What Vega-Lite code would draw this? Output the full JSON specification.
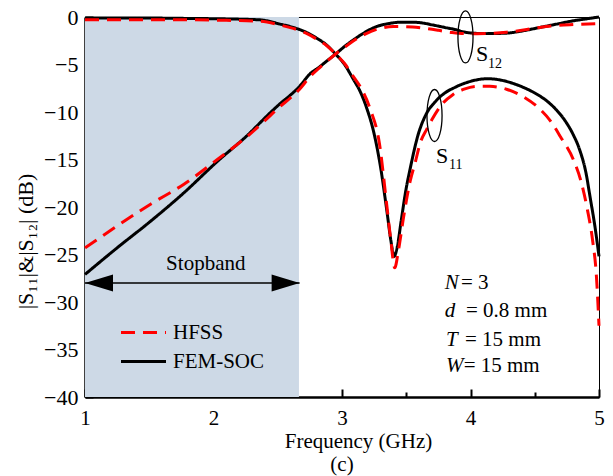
{
  "$schema": "https://vega.github.io/schema/vega-lite/v6.json",
  "width": 514,
  "height": 380,
  "autosize": "none",
  "padding": {"left": 85, "top": 17, "right": 14, "bottom": 79},
  "config": {
    "font": "Liberation Serif",
    "view": {"stroke": "#000", "strokeWidth": 1},
    "axis": {
      "domainColor": "#000", "domainWidth": 2.5, "tickColor": "#000", "tickWidth": 2,
      "labelFont": "Liberation Serif", "labelFontSize": 21, "labelColor": "#000",
      "titleFont": "Liberation Serif", "titleFontWeight": "normal", "titleColor": "#000",
      "grid": false, "labelFlush": false, "labelOverlap": false
    }
  },
  "title": {"text": "(c)", "orient": "bottom", "anchor": "middle", "frame": "group", "offset": 3, "fontSize": 21, "font": "Liberation Serif", "fontWeight": "normal", "color": "#000", "baseline": "top"},
  "datasets": {
    "band": [{"f": 1, "f2": 2.665, "db": -40, "db2": 0}],
    "arrow": [{"f": 1, "f2": 2.67, "db": -28}],
    "heads": [{"f": 1, "db": -28, "dir": "left"}, {"f": 2.67, "db": -28, "dir": "right"}],
    "stop": [{"f": 1.94, "db": -26.58, "t": "Stopband"}],
    "curves": [
      {"series": "FEM-SOC", "param": "S11", "f": 1.0, "db": -0.1},
      {"series": "FEM-SOC", "param": "S11", "f": 1.4, "db": -0.1},
      {"series": "FEM-SOC", "param": "S11", "f": 1.8, "db": -0.15},
      {"series": "FEM-SOC", "param": "S11", "f": 2.1, "db": -0.2},
      {"series": "FEM-SOC", "param": "S11", "f": 2.36, "db": -0.3},
      {"series": "FEM-SOC", "param": "S11", "f": 2.52, "db": -0.75},
      {"series": "FEM-SOC", "param": "S11", "f": 2.62, "db": -1.1},
      {"series": "FEM-SOC", "param": "S11", "f": 2.72, "db": -1.6},
      {"series": "FEM-SOC", "param": "S11", "f": 2.8, "db": -2.2},
      {"series": "FEM-SOC", "param": "S11", "f": 2.88, "db": -2.95},
      {"series": "FEM-SOC", "param": "S11", "f": 2.95, "db": -3.9},
      {"series": "FEM-SOC", "param": "S11", "f": 3.02, "db": -5.0},
      {"series": "FEM-SOC", "param": "S11", "f": 3.09, "db": -6.6},
      {"series": "FEM-SOC", "param": "S11", "f": 3.14, "db": -7.8},
      {"series": "FEM-SOC", "param": "S11", "f": 3.19, "db": -9.5},
      {"series": "FEM-SOC", "param": "S11", "f": 3.25, "db": -12.3},
      {"series": "FEM-SOC", "param": "S11", "f": 3.3, "db": -15.8},
      {"series": "FEM-SOC", "param": "S11", "f": 3.35, "db": -20.5},
      {"series": "FEM-SOC", "param": "S11", "f": 3.38, "db": -23.5},
      {"series": "FEM-SOC", "param": "S11", "f": 3.405, "db": -25.2},
      {"series": "FEM-SOC", "param": "S11", "f": 3.43, "db": -24.2},
      {"series": "FEM-SOC", "param": "S11", "f": 3.46, "db": -21.5},
      {"series": "FEM-SOC", "param": "S11", "f": 3.5, "db": -18.0},
      {"series": "FEM-SOC", "param": "S11", "f": 3.53, "db": -16.0},
      {"series": "FEM-SOC", "param": "S11", "f": 3.59, "db": -12.5},
      {"series": "FEM-SOC", "param": "S11", "f": 3.66, "db": -10.1},
      {"series": "FEM-SOC", "param": "S11", "f": 3.72, "db": -9.0},
      {"series": "FEM-SOC", "param": "S11", "f": 3.79, "db": -8.1},
      {"series": "FEM-SOC", "param": "S11", "f": 3.88, "db": -7.4},
      {"series": "FEM-SOC", "param": "S11", "f": 3.97, "db": -6.9},
      {"series": "FEM-SOC", "param": "S11", "f": 4.13, "db": -6.5},
      {"series": "FEM-SOC", "param": "S11", "f": 4.22, "db": -6.6},
      {"series": "FEM-SOC", "param": "S11", "f": 4.31, "db": -6.9},
      {"series": "FEM-SOC", "param": "S11", "f": 4.41, "db": -7.4},
      {"series": "FEM-SOC", "param": "S11", "f": 4.5, "db": -8.0},
      {"series": "FEM-SOC", "param": "S11", "f": 4.6, "db": -8.9},
      {"series": "FEM-SOC", "param": "S11", "f": 4.67, "db": -9.8},
      {"series": "FEM-SOC", "param": "S11", "f": 4.74, "db": -11.0},
      {"series": "FEM-SOC", "param": "S11", "f": 4.8, "db": -12.4},
      {"series": "FEM-SOC", "param": "S11", "f": 4.85, "db": -14.0},
      {"series": "FEM-SOC", "param": "S11", "f": 4.9, "db": -16.5},
      {"series": "FEM-SOC", "param": "S11", "f": 4.93, "db": -18.9},
      {"series": "FEM-SOC", "param": "S11", "f": 4.97, "db": -22.2},
      {"series": "FEM-SOC", "param": "S11", "f": 5.0, "db": -25.2},
      {"series": "FEM-SOC", "param": "S12", "f": 1.0, "db": -27.1},
      {"series": "FEM-SOC", "param": "S12", "f": 1.25, "db": -24.3},
      {"series": "FEM-SOC", "param": "S12", "f": 1.51, "db": -21.5},
      {"series": "FEM-SOC", "param": "S12", "f": 1.77, "db": -18.5},
      {"series": "FEM-SOC", "param": "S12", "f": 2.03, "db": -15.2},
      {"series": "FEM-SOC", "param": "S12", "f": 2.26, "db": -12.5},
      {"series": "FEM-SOC", "param": "S12", "f": 2.44, "db": -10.1},
      {"series": "FEM-SOC", "param": "S12", "f": 2.52, "db": -9.1},
      {"series": "FEM-SOC", "param": "S12", "f": 2.6, "db": -8.2},
      {"series": "FEM-SOC", "param": "S12", "f": 2.67, "db": -7.3},
      {"series": "FEM-SOC", "param": "S12", "f": 2.75, "db": -6.0},
      {"series": "FEM-SOC", "param": "S12", "f": 2.82, "db": -5.3},
      {"series": "FEM-SOC", "param": "S12", "f": 2.88, "db": -4.65},
      {"series": "FEM-SOC", "param": "S12", "f": 2.95, "db": -3.9},
      {"series": "FEM-SOC", "param": "S12", "f": 3.02, "db": -3.1},
      {"series": "FEM-SOC", "param": "S12", "f": 3.09, "db": -2.4},
      {"series": "FEM-SOC", "param": "S12", "f": 3.18, "db": -1.6},
      {"series": "FEM-SOC", "param": "S12", "f": 3.27, "db": -1.0},
      {"series": "FEM-SOC", "param": "S12", "f": 3.36, "db": -0.7},
      {"series": "FEM-SOC", "param": "S12", "f": 3.45, "db": -0.55},
      {"series": "FEM-SOC", "param": "S12", "f": 3.55, "db": -0.55},
      {"series": "FEM-SOC", "param": "S12", "f": 3.61, "db": -0.6},
      {"series": "FEM-SOC", "param": "S12", "f": 3.71, "db": -0.85},
      {"series": "FEM-SOC", "param": "S12", "f": 3.8, "db": -1.1},
      {"series": "FEM-SOC", "param": "S12", "f": 3.89, "db": -1.35},
      {"series": "FEM-SOC", "param": "S12", "f": 3.94, "db": -1.55},
      {"series": "FEM-SOC", "param": "S12", "f": 4.02, "db": -1.7},
      {"series": "FEM-SOC", "param": "S12", "f": 4.13, "db": -1.75},
      {"series": "FEM-SOC", "param": "S12", "f": 4.28, "db": -1.7},
      {"series": "FEM-SOC", "param": "S12", "f": 4.39, "db": -1.5},
      {"series": "FEM-SOC", "param": "S12", "f": 4.54, "db": -1.1},
      {"series": "FEM-SOC", "param": "S12", "f": 4.67, "db": -0.75},
      {"series": "FEM-SOC", "param": "S12", "f": 4.8, "db": -0.4},
      {"series": "FEM-SOC", "param": "S12", "f": 4.9, "db": -0.2},
      {"series": "FEM-SOC", "param": "S12", "f": 5.0, "db": 0.0},
      {"series": "HFSS", "param": "S11", "f": 1.0, "db": -0.3},
      {"series": "HFSS", "param": "S11", "f": 1.4, "db": -0.3},
      {"series": "HFSS", "param": "S11", "f": 1.8, "db": -0.3},
      {"series": "HFSS", "param": "S11", "f": 2.1, "db": -0.35},
      {"series": "HFSS", "param": "S11", "f": 2.36, "db": -0.45},
      {"series": "HFSS", "param": "S11", "f": 2.52, "db": -0.85},
      {"series": "HFSS", "param": "S11", "f": 2.62, "db": -1.2},
      {"series": "HFSS", "param": "S11", "f": 2.72, "db": -1.7},
      {"series": "HFSS", "param": "S11", "f": 2.8, "db": -2.3},
      {"series": "HFSS", "param": "S11", "f": 2.88, "db": -3.0},
      {"series": "HFSS", "param": "S11", "f": 2.95, "db": -3.9},
      {"series": "HFSS", "param": "S11", "f": 3.02, "db": -4.9},
      {"series": "HFSS", "param": "S11", "f": 3.09, "db": -6.3},
      {"series": "HFSS", "param": "S11", "f": 3.14, "db": -7.3},
      {"series": "HFSS", "param": "S11", "f": 3.22, "db": -9.7},
      {"series": "HFSS", "param": "S11", "f": 3.29, "db": -13.2},
      {"series": "HFSS", "param": "S11", "f": 3.35, "db": -20.0},
      {"series": "HFSS", "param": "S11", "f": 3.38, "db": -23.5},
      {"series": "HFSS", "param": "S11", "f": 3.41, "db": -26.4},
      {"series": "HFSS", "param": "S11", "f": 3.44, "db": -24.5},
      {"series": "HFSS", "param": "S11", "f": 3.48, "db": -21.0},
      {"series": "HFSS", "param": "S11", "f": 3.53, "db": -17.3},
      {"series": "HFSS", "param": "S11", "f": 3.57, "db": -15.3},
      {"series": "HFSS", "param": "S11", "f": 3.61, "db": -13.2},
      {"series": "HFSS", "param": "S11", "f": 3.66, "db": -11.8},
      {"series": "HFSS", "param": "S11", "f": 3.7, "db": -10.8},
      {"series": "HFSS", "param": "S11", "f": 3.79, "db": -9.0},
      {"series": "HFSS", "param": "S11", "f": 3.86, "db": -8.2},
      {"series": "HFSS", "param": "S11", "f": 3.95, "db": -7.6},
      {"series": "HFSS", "param": "S11", "f": 4.05, "db": -7.3},
      {"series": "HFSS", "param": "S11", "f": 4.15, "db": -7.3},
      {"series": "HFSS", "param": "S11", "f": 4.28, "db": -7.6},
      {"series": "HFSS", "param": "S11", "f": 4.4, "db": -8.3},
      {"series": "HFSS", "param": "S11", "f": 4.54, "db": -9.7},
      {"series": "HFSS", "param": "S11", "f": 4.62, "db": -10.9},
      {"series": "HFSS", "param": "S11", "f": 4.7, "db": -12.6},
      {"series": "HFSS", "param": "S11", "f": 4.8, "db": -15.0},
      {"series": "HFSS", "param": "S11", "f": 4.86, "db": -17.3},
      {"series": "HFSS", "param": "S11", "f": 4.91, "db": -20.3},
      {"series": "HFSS", "param": "S11", "f": 4.95, "db": -23.5},
      {"series": "HFSS", "param": "S11", "f": 4.98, "db": -27.3},
      {"series": "HFSS", "param": "S11", "f": 5.0, "db": -32.5},
      {"series": "HFSS", "param": "S12", "f": 1.0, "db": -24.3},
      {"series": "HFSS", "param": "S12", "f": 1.25, "db": -22.0},
      {"series": "HFSS", "param": "S12", "f": 1.51, "db": -19.7},
      {"series": "HFSS", "param": "S12", "f": 1.77, "db": -17.6},
      {"series": "HFSS", "param": "S12", "f": 2.03, "db": -15.0},
      {"series": "HFSS", "param": "S12", "f": 2.26, "db": -12.6},
      {"series": "HFSS", "param": "S12", "f": 2.44, "db": -10.4},
      {"series": "HFSS", "param": "S12", "f": 2.52, "db": -9.4},
      {"series": "HFSS", "param": "S12", "f": 2.6, "db": -8.5},
      {"series": "HFSS", "param": "S12", "f": 2.67, "db": -7.6},
      {"series": "HFSS", "param": "S12", "f": 2.75, "db": -6.3},
      {"series": "HFSS", "param": "S12", "f": 2.82, "db": -5.4},
      {"series": "HFSS", "param": "S12", "f": 2.88, "db": -4.7},
      {"series": "HFSS", "param": "S12", "f": 2.95, "db": -3.9},
      {"series": "HFSS", "param": "S12", "f": 3.02, "db": -3.2},
      {"series": "HFSS", "param": "S12", "f": 3.09, "db": -2.5},
      {"series": "HFSS", "param": "S12", "f": 3.18, "db": -1.8},
      {"series": "HFSS", "param": "S12", "f": 3.27, "db": -1.3},
      {"series": "HFSS", "param": "S12", "f": 3.4, "db": -1.0},
      {"series": "HFSS", "param": "S12", "f": 3.55, "db": -1.05},
      {"series": "HFSS", "param": "S12", "f": 3.65, "db": -1.2},
      {"series": "HFSS", "param": "S12", "f": 3.75, "db": -1.4},
      {"series": "HFSS", "param": "S12", "f": 3.84, "db": -1.6},
      {"series": "HFSS", "param": "S12", "f": 3.95, "db": -1.75},
      {"series": "HFSS", "param": "S12", "f": 4.05, "db": -1.75},
      {"series": "HFSS", "param": "S12", "f": 4.28, "db": -1.6},
      {"series": "HFSS", "param": "S12", "f": 4.4, "db": -1.4},
      {"series": "HFSS", "param": "S12", "f": 4.54, "db": -1.1},
      {"series": "HFSS", "param": "S12", "f": 4.67, "db": -0.9},
      {"series": "HFSS", "param": "S12", "f": 4.8, "db": -0.8},
      {"series": "HFSS", "param": "S12", "f": 5.0, "db": -0.7}
    ],
    "ellipses": [{"f": 3.961, "db": -2.1}, {"f": 3.72, "db": -10.37}],
    "slabels": [{"f": 4.043, "db": -4.68, "t": "S"}, {"f": 3.732, "db": -15.32, "t": "S"}],
    "subs": [{"f": 4.136, "db": -5.42, "t": "12"}, {"f": 3.833, "db": -16.05, "t": "11"}],
    "pvars": [
      {"f": 3.8, "db": -28.68, "t": "N"},
      {"f": 3.8, "db": -31.63, "t": "d"},
      {"f": 3.81, "db": -34.58, "t": "T"},
      {"f": 3.81, "db": -37.42, "t": "W"}
    ],
    "pvals": [
      {"f": 3.926, "db": -28.68, "t": "= 3"},
      {"f": 3.965, "db": -31.63, "t": "= 0.8 mm"},
      {"f": 3.957, "db": -34.58, "t": "= 15 mm"},
      {"f": 3.947, "db": -37.42, "t": "= 15 mm"}
    ]
  },
  "layer": [
    {
      "data": {"name": "band"},
      "mark": {"type": "rect", "color": "#cdd9e6"},
      "encoding": {
        "x": {
          "field": "f", "type": "quantitative",
          "scale": {"domain": [1, 5], "nice": false, "zero": false},
          "axis": {
            "title": "Frequency (GHz)",
            "values": [1, 1.5, 2, 2.5, 3, 3.5, 4, 4.5, 5],
            "labelExpr": "datum.value % 1 === 0 ? format(datum.value, 'd') : ''",
            "tickSize": {"condition": {"test": "datum.value % 1 !== 0", "value": -5}, "value": -8},
            "labelPadding": 18,
            "labelFont": "Liberation Serif", "labelFontSize": 21,
            "titleFont": "Liberation Serif", "titleFontSize": 21,
            "titleX": 273, "titleY": 50, "titleBaseline": "alphabetic", "titleAlign": "center"
          }
        },
        "x2": {"field": "f2"},
        "y": {
          "field": "db", "type": "quantitative",
          "scale": {"domain": [-40, 0], "nice": false, "zero": false},
          "axis": {
            "title": "|S₁₁|&|S₁₂| (dB)",
            "values": [-40, -37.5, -35, -32.5, -30, -27.5, -25, -22.5, -20, -17.5, -15, -12.5, -10, -7.5, -5, -2.5, 0],
            "labelExpr": "datum.value % 5 === 0 ? replace(format(datum.value, 'd'), '-', '\u2212') : ''",
            "tickSize": {"condition": {"test": "datum.value % 5 !== 0", "value": -5}, "value": -8},
            "labelPadding": 15,
            "labelFont": "Liberation Serif", "labelFontSize": 22,
            "titleFont": "Liberation Serif", "titleFontSize": 22,
            "titleX": -53, "titleY": 224, "titleAngle": 270, "titleBaseline": "alphabetic", "titleAlign": "center"
          }
        },
        "y2": {"field": "db2"}
      }
    },
    {
      "data": {"name": "arrow"},
      "mark": {"type": "rule", "color": "#000", "strokeWidth": 1.5},
      "encoding": {
        "x": {"field": "f", "type": "quantitative"},
        "x2": {"field": "f2"},
        "y": {"field": "db", "type": "quantitative"}
      }
    },
    {
      "data": {"name": "heads"},
      "mark": {"type": "point", "filled": true, "color": "#000", "opacity": 1, "size": 784},
      "encoding": {
        "x": {"field": "f", "type": "quantitative"},
        "y": {"field": "db", "type": "quantitative"},
        "shape": {"field": "dir", "type": "nominal", "legend": null,
          "scale": {"domain": ["left", "right"], "range": ["M0,0L2,-0.6L2,0.6Z", "M0,0L-2,-0.6L-2,0.6Z"]}}
      }
    },
    {
      "data": {"name": "stop"},
      "mark": {"type": "text", "font": "Liberation Serif", "fontSize": 21, "align": "center", "baseline": "alphabetic", "color": "#000"},
      "encoding": {
        "x": {"field": "f", "type": "quantitative"},
        "y": {"field": "db", "type": "quantitative"},
        "text": {"field": "t"}
      }
    },
    {
      "data": {"name": "curves"},
      "mark": {"type": "line", "strokeWidth": 3, "interpolate": "monotone"},
      "encoding": {
        "x": {"field": "f", "type": "quantitative"},
        "y": {"field": "db", "type": "quantitative"},
        "detail": {"field": "param"},
        "color": {"field": "series", "type": "nominal",
          "scale": {"domain": ["HFSS", "FEM-SOC"], "range": ["#ff0000", "#000000"]},
          "legend": {"orient": "none", "legendX": 48, "legendY": 305, "title": null, "symbolType": "M-3,0L3,0", "symbolSize": 225, "symbolStrokeWidth": 3, "labelFontSize": 21, "labelFont": "Liberation Serif", "labelColor": "#000", "labelOffset": 19, "rowPadding": 7, "padding": 0}},
        "strokeDash": {"field": "series", "type": "nominal",
          "scale": {"domain": ["HFSS", "FEM-SOC"], "range": [[14, 8], [1, 0]]},
          "legend": {"orient": "none", "legendX": 48, "legendY": 305, "title": null, "symbolType": "M-3,0L3,0", "symbolSize": 225, "symbolStrokeWidth": 3, "labelFontSize": 21, "labelFont": "Liberation Serif", "labelColor": "#000", "labelOffset": 19, "rowPadding": 7, "padding": 0}}
      }
    },
    {
      "data": {"name": "ellipses"},
      "mark": {"type": "point", "filled": false, "color": "#000", "strokeWidth": 1.3, "opacity": 1, "size": 2704, "shape": "M0,-1A0.29,1,0,1,1,0,1A0.29,1,0,1,1,0,-1Z"},
      "encoding": {
        "x": {"field": "f", "type": "quantitative"},
        "y": {"field": "db", "type": "quantitative"}
      }
    },
    {
      "data": {"name": "slabels"},
      "mark": {"type": "text", "font": "Liberation Serif", "fontSize": 22, "align": "left", "baseline": "alphabetic", "color": "#000"},
      "encoding": {
        "x": {"field": "f", "type": "quantitative"},
        "y": {"field": "db", "type": "quantitative"},
        "text": {"field": "t"}
      }
    },
    {
      "data": {"name": "subs"},
      "mark": {"type": "text", "font": "Liberation Serif", "fontSize": 14, "align": "left", "baseline": "alphabetic", "color": "#000"},
      "encoding": {
        "x": {"field": "f", "type": "quantitative"},
        "y": {"field": "db", "type": "quantitative"},
        "text": {"field": "t"}
      }
    },
    {
      "data": {"name": "pvars"},
      "mark": {"type": "text", "font": "Liberation Serif", "fontSize": 21, "fontStyle": "italic", "align": "left", "baseline": "alphabetic", "color": "#000"},
      "encoding": {
        "x": {"field": "f", "type": "quantitative"},
        "y": {"field": "db", "type": "quantitative"},
        "text": {"field": "t"}
      }
    },
    {
      "data": {"name": "pvals"},
      "mark": {"type": "text", "font": "Liberation Serif", "fontSize": 21, "align": "left", "baseline": "alphabetic", "color": "#000"},
      "encoding": {
        "x": {"field": "f", "type": "quantitative"},
        "y": {"field": "db", "type": "quantitative"},
        "text": {"field": "t"}
      }
    }
  ]
}
